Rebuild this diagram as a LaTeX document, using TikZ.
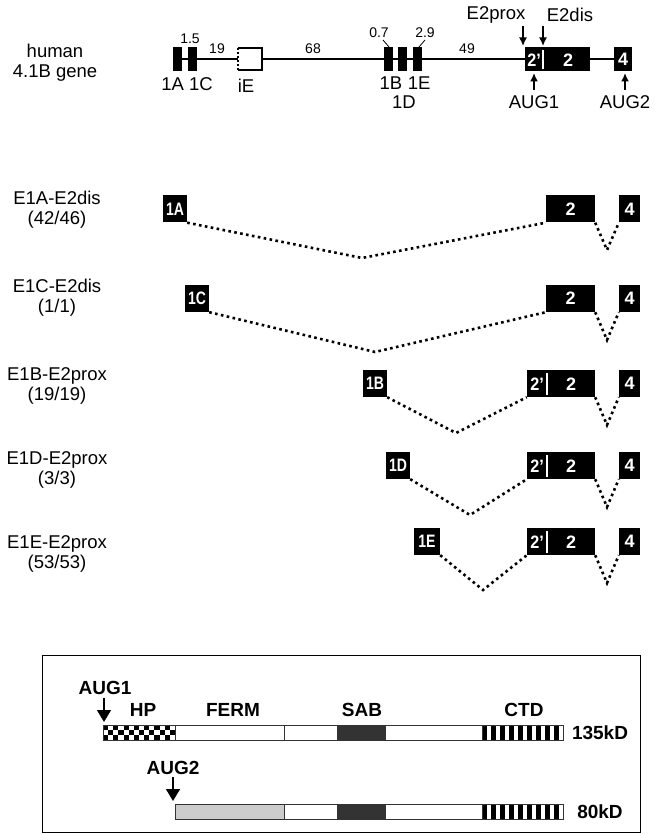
\documentclass[tikz,border=0pt]{standalone}
\usepackage{fontspec}
\setmainfont{Liberation Sans}
\usetikzlibrary{arrows.meta}
\begin{document}
\begin{tikzpicture}[x=1pt,y=-1pt,
  lbl/.style={font=\fontsize{18.5}{20}\selectfont, align=center, inner sep=0},
  num/.style={font=\fontsize{14}{15}\selectfont, inner sep=0},
  blbl/.style={font=\fontsize{19}{20}\selectfont\bfseries, inner sep=0},
  gexon/.style={fill=black, draw=none, minimum width=9pt, minimum height=24pt, inner sep=0},
  exon/.style={fill=black, draw=none, text=white, inner sep=0, minimum height=27pt,
    font=\fontsize{18}{18}\selectfont\bfseries},
  bigexon/.style={fill=black, draw=none, text=white, inner sep=0,
    font=\fontsize{18}{18}\selectfont\bfseries},
  wtxt/.style={text=white, font=\fontsize{18}{18}\selectfont\bfseries, inner sep=0},
  splice/.style={line width=2.6pt, dash pattern=on 2.6pt off 3.4pt},
  genearrow/.style={line width=1.6pt, -{Latex[length=8.5pt,width=8pt]}},
  protarrow/.style={line width=1.5pt, -{Triangle[length=12pt,width=14pt]}},
  seg/.style={draw=black!80, line width=0.8pt}
]
\useasboundingbox (0,0) rectangle (654,834);

% ---------------- gene map ----------------
\node[lbl] (title) at (55,63) {human\\4.1B gene};
\coordinate (gstart) at (182,59);
\coordinate (gend) at (614,59);
\draw[line width=1.2pt] (gstart) -- (gend);
\node[gexon] (g1A) at (177.5,59) {};
\node[gexon] (g1C) at (192,59) {};
\node[gexon] (g1B) at (388.5,59) {};
\node[gexon] (g1D) at (402.5,59) {};
\node[gexon] (g1E) at (417.5,59) {};
% iE
\node[fill=white, draw=none, minimum width=24pt, minimum height=22pt, inner sep=0] (iE) at (250,59) {};
\draw[line width=1.5pt] (iE.north west) -- (iE.north east) -- (iE.south east) -- (iE.south west);
\draw[line width=2.4pt, dash pattern=on 2pt off 2pt] (iE.north west) -- (iE.south west);
% exon 2' / 2
\node[bigexon, minimum width=65pt, minimum height=24pt] (g2) at (557.5,59) {};
\node[wtxt] (g2p) at (534,60) {\scalebox{0.9}[1]{2’}};
\node[wtxt] (g2t) at (568,60) {2};
\draw[white, line width=1.6pt] (543,50) -- (543,69);
\node[bigexon, minimum width=18pt, minimum height=24pt] (g4) at (623,59) {4};

\node[num] (n15) at (190,39) {1.5};
\node[num] (n19) at (217,49) {19};
\node[num] (n68) at (313,49) {68};
\node[num] (n07) at (379,33) {0.7};
\node[num] (n29) at (425,33) {2.9};
\node[num] (n49) at (467,49) {49};
\draw[line width=0.8pt] (383,40) -- (389,47);
\draw[line width=0.8pt] (425,40) -- (419,47);

\node[lbl] (l1A) at (187,84) {1A 1C};
\node[lbl] (liE) at (246,86) {iE};
\node[lbl] (l1B) at (405,83) {1B\hspace{0.3em}1E};
\node[lbl] (l1D) at (404,102) {1D};
\node[lbl] (lprox) at (496,15) {E2prox};
\node[lbl] (ldis) at (570,15) {E2dis};
\node[lbl] (laug1) at (534,102) {AUG1};
\node[lbl] (laug2) at (625,102) {AUG2};
\coordinate (aproxtip) at (523,46);
\coordinate (adistip) at (543,46);
\draw[genearrow] (523,26) -- (aproxtip);
\draw[genearrow] (543,26) -- (adistip);
\draw[genearrow] (534,90) -- (534,73);
\draw[genearrow] (625,90) -- (625,73);

% ---------------- transcripts ----------------
% row 1
\node[lbl] (t1) at (57,210) {E1A-E2dis\\(42/46)};
\node[exon, minimum width=24pt] (r1e1) at (175,209) {\scalebox{0.78}[1]{1A}};
\node[exon, minimum width=49pt] (r1e2) at (570.5,209) {2};
\node[exon, minimum width=21pt] (r1e4) at (629.5,209) {4};
\coordinate (r1v) at (362,258);
\coordinate (r1w) at (607,250);
\draw[splice] (r1e1.south east) -- (r1v) -- (r1e2.south west);
\draw[splice] (r1e2.south east) -- (r1w) -- (r1e4.south west);
% row 2
\node[lbl] (t2) at (57,298) {E1C-E2dis\\(1/1)};
\node[exon, minimum width=24pt] (r2e1) at (197,298.5) {\scalebox{0.78}[1]{1C}};
\node[exon, minimum width=49pt] (r2e2) at (570.5,298.5) {2};
\node[exon, minimum width=21pt] (r2e4) at (629.5,298.5) {4};
\coordinate (r2v) at (375,352);
\coordinate (r2w) at (607,340);
\draw[splice] (r2e1.south east) -- (r2v) -- (r2e2.south west);
\draw[splice] (r2e2.south east) -- (r2w) -- (r2e4.south west);
% row 3
\node[lbl] (t3) at (57,386) {E1B-E2prox\\(19/19)};
\node[exon, minimum width=24pt] (r3e1) at (375,383.5) {\scalebox{0.78}[1]{1B}};
\node[exon, minimum width=68pt] (r3e2) at (561,383.5) {};
\node[wtxt] (r3p) at (537,384) {\scalebox{0.9}[1]{2’}};
\node[wtxt] (r3t) at (571,384) {2};
\draw[white, line width=1.6pt] (547,373) -- (547,395);
\node[exon, minimum width=21pt] (r3e4) at (629.5,383.5) {4};
\coordinate (r3v) at (456,433);
\coordinate (r3w) at (607,425);
\draw[splice] (r3e1.south east) -- (r3v) -- (r3e2.south west);
\draw[splice] (r3e2.south east) -- (r3w) -- (r3e4.south west);
% row 4
\node[lbl] (t4) at (57,470) {E1D-E2prox\\(3/3)};
\node[exon, minimum width=24pt] (r4e1) at (398,465.5) {\scalebox{0.78}[1]{1D}};
\node[exon, minimum width=68pt] (r4e2) at (561,465.5) {};
\node[wtxt] (r4p) at (537,466) {\scalebox{0.9}[1]{2’}};
\node[wtxt] (r4t) at (571,466) {2};
\draw[white, line width=1.6pt] (547,455) -- (547,477);
\node[exon, minimum width=21pt] (r4e4) at (629.5,465.5) {4};
\coordinate (r4v) at (470,515);
\coordinate (r4w) at (607,507);
\draw[splice] (r4e1.south east) -- (r4v) -- (r4e2.south west);
\draw[splice] (r4e2.south east) -- (r4w) -- (r4e4.south west);
% row 5
\node[lbl] (t5) at (57,554) {E1E-E2prox\\(53/53)};
\node[exon, minimum width=26pt] (r5e1) at (427,541.5) {\scalebox{0.78}[1]{1E}};
\node[exon, minimum width=68pt] (r5e2) at (561,541.5) {};
\node[wtxt] (r5p) at (537,542) {\scalebox{0.9}[1]{2’}};
\node[wtxt] (r5t) at (571,542) {2};
\draw[white, line width=1.6pt] (547,531) -- (547,553);
\node[exon, minimum width=21pt] (r5e4) at (629.5,541.5) {4};
\coordinate (r5v) at (483,590);
\coordinate (r5w) at (607,583);
\draw[splice] (r5e1.south east) -- (r5v) -- (r5e2.south west);
\draw[splice] (r5e2.south east) -- (r5w) -- (r5e4.south west);

% ---------------- protein panel ----------------
\draw[line width=0.9pt] (42,655) rectangle (640,832);
% bar 1
\fill[white] (103,725) rectangle (563,740);
\foreach \i in {0,...,13}{
  \foreach \j in {0,1,2}{
    \pgfmathparse{int(mod(\i+\j,2))}
    \ifnum\pgfmathresult=0
      \fill[black] ({103+\i*72/14},{725+\j*5}) rectangle ({103+(\i+1)*72/14},{725+(\j+1)*5});
    \fi
  }
}
\fill[black!80] (337,725) rectangle (385,740);
\foreach \k in {0,...,8}{
  \fill[black] ({482+\k*9},725) rectangle ({487+\k*9},740);
}
\draw[seg] (103,725) rectangle (563,740);
\foreach \xx in {175,284,337,385,482}{\draw[seg] (\xx,725) -- (\xx,740);}
% bar 2
\fill[black!20] (175,804) rectangle (284,819);
\fill[black!80] (337,804) rectangle (385,819);
\foreach \k in {0,...,8}{
  \fill[black] ({482+\k*9},804) rectangle ({487+\k*9},819);
}
\draw[seg] (175,804) rectangle (563,819);
\foreach \xx in {284,337,385,482}{\draw[seg] (\xx,804) -- (\xx,819);}

\node[blbl] (paug1) at (105,688) {AUG1};
\node[blbl] (php) at (143,710) {HP};
\node[blbl] (pferm) at (233,710) {FERM};
\node[blbl] (psab) at (362,710) {SAB};
\node[blbl] (pctd) at (524,710) {CTD};
\node[blbl] (p135) at (600,733) {135kD};
\node[blbl] (paug2) at (173,768) {AUG2};
\node[blbl] (p80) at (600,812) {80kD};
\coordinate (pa1tip) at (104,722);
\coordinate (pa2tip) at (173,801);
\draw[protarrow] (104,698) -- (pa1tip);
\draw[protarrow] (173,777) -- (pa2tip);
\end{tikzpicture}
\end{document}
